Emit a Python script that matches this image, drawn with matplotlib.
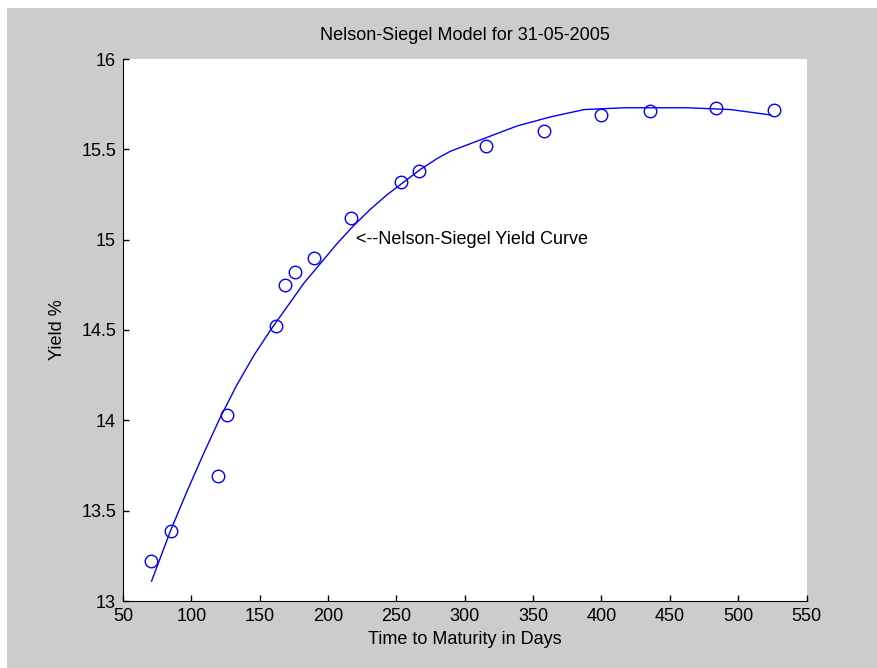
import numpy as np
import matplotlib
matplotlib.use("Agg")
import matplotlib.pyplot as plt
from matplotlib.patches import Rectangle

plt.rcParams['font.family'] = ['Liberation Sans', 'DejaVu Sans']

# observed yields (days to maturity, yield %)
days = [70.6, 84.8, 119.2, 125.8, 161.6, 168.4, 175.8, 189.5, 217.0,
        253.1, 266.8, 315.4, 357.8, 399.6, 435.2, 483.7, 526.1]
yields = [13.22, 13.39, 13.69, 14.03, 14.52, 14.75, 14.82, 14.90, 15.12,
          15.32, 15.38, 15.52, 15.60, 15.69, 15.71, 15.73, 15.72]

# fitted Nelson-Siegel curve
curve_days = [70.9, 84.8, 97.0, 109.2, 121.4, 133.6, 145.8, 158.0, 170.2,
              182.4, 194.6, 206.8, 219.0, 231.2, 243.4, 255.6, 267.8, 280.0,
              289.7, 314.1, 338.6, 363, 387.3, 416.6, 463, 494.7, 524]
curve_yield = [13.11, 13.39, 13.61, 13.82, 14.02, 14.20, 14.36, 14.50, 14.63,
               14.76, 14.87, 14.98, 15.08, 15.17, 15.25, 15.32, 15.39, 15.45,
               15.49, 15.56, 15.63, 15.68, 15.72, 15.73, 15.73, 15.72, 15.69]

gray = '#cccccc'
fig = plt.figure(figsize=(8.77, 6.68), dpi=100, facecolor='white')
fig.patches.append(Rectangle((7 / 877, 0), 1, 1 - 8 / 668, transform=fig.transFigure,
                             facecolor=gray, edgecolor='none', zorder=-10))

ax = fig.add_axes([123 / 877, 67 / 668, 683.5 / 877, 542 / 668])
ax.set_facecolor('white')

ax.plot(curve_days, curve_yield, color='blue', linewidth=1)
ax.plot(days, yields, 'o', color='blue', markerfacecolor='none',
        markersize=9, markeredgewidth=1)

ax.text(220.2, 15.0, '<--Nelson-Siegel Yield Curve', fontsize=13,
        ha='left', va='center')

ax.set_xlim(50, 550)
ax.set_ylim(13, 16)
ax.set_xticks(np.arange(50, 551, 50))
ax.set_yticks(np.arange(13, 16.01, 0.5))
ax.set_yticklabels(['13', '13.5', '14', '14.5', '15', '15.5', '16'])
ax.tick_params(direction='in', length=4, width=1, labelsize=13, pad=5)

ax.spines['top'].set_visible(False)
ax.spines['right'].set_visible(False)

ax.set_title('Nelson-Siegel Model for 31-05-2005', fontsize=13, pad=14)
ax.set_xlabel('Time to Maturity in Days', fontsize=13, labelpad=4)
ax.set_ylabel('Yield %', fontsize=13, labelpad=11)

fig.savefig('out.png', dpi=100, facecolor=fig.get_facecolor())
